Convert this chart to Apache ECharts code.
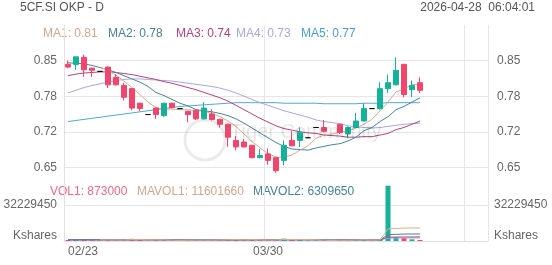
<!DOCTYPE html>
<html><head><meta charset="utf-8">
<script src="https://cdn.jsdelivr.net/npm/echarts@6/dist/echarts.min.js"></script>
<style>html,body{margin:0;padding:0;background:#fff}#c{width:552px;height:265px}</style>
</head><body><div id="c"></div>
<script>
// ---------- data ----------
const titleText = '5CF.SI OKP - D';
const timeText = '2026-04-28  06:04:01';
const watermarkText = 'Tiger Community';
const categories = ['02/23','02/24','02/25','02/26','02/27','03/02','03/03','03/04','03/05','03/06',
  '03/09','03/10','03/11','03/12','03/13','03/16','03/17','03/18','03/19','03/20',
  '03/23','03/24','03/25','03/26','03/27','03/30','03/31','04/01','04/02','04/06',
  '04/07','04/08','04/09','04/10','04/13','04/14','04/15','04/16','04/17','04/20',
  '04/21','04/22','04/23','04/24','04/27','04/28','04/29','04/30','05/01','05/04',
  '05/05','05/06','05/07'];
const shownDateLabels = ['02/23','03/30'];
const gridDates = ['03/30','05/05'];
const opens  = [0.843,0.843,0.856,0.836,0.830,0.838,0.819,0.804,0.798,0.771,0.750,0.762,0.748,0.771,0.761,0.756,0.758,0.742,0.751,0.741,0.732,0.702,0.699,0.693,0.670,0.677,0.670,0.665,0.702,0.702,0.707,0.726,0.726,null,0.732,0.714,0.726,0.738,0.761,0.761,0.798,0.805,0.843,0.796,0.809];
const closes = [0.838,0.857,0.833,0.832,0.830,0.805,0.805,0.782,0.762,0.761,0.750,0.750,0.771,0.763,0.761,0.750,0.742,0.762,0.741,0.732,0.708,0.690,0.690,0.670,0.674,0.665,0.646,0.693,0.692,0.717,0.707,0.726,0.719,null,0.717,0.726,0.738,0.761,0.761,0.798,0.809,0.832,0.787,0.804,0.795];
const lows   = [0.836,0.833,0.820,0.820,0.830,0.799,0.804,0.776,0.758,0.756,0.750,0.742,0.746,0.761,0.761,0.736,0.740,0.741,0.739,0.726,0.690,0.684,0.689,0.669,0.669,0.657,0.642,0.656,0.691,0.690,0.707,0.726,0.717,null,0.714,0.706,0.725,0.737,0.761,0.759,0.790,0.804,0.782,0.782,0.790];
const highs  = [0.850,0.857,0.861,0.837,0.830,0.839,0.825,0.809,0.799,0.772,0.750,0.763,0.772,0.772,0.761,0.757,0.759,0.773,0.760,0.742,0.733,0.710,0.705,0.694,0.686,0.687,0.672,0.702,0.719,0.726,0.707,0.726,0.740,null,0.733,0.728,0.753,0.771,0.761,0.810,0.824,0.856,0.844,0.813,0.819];
const ma1 = [null,null,null,null,0.838,0.832,0.823,0.812,0.800,0.787,0.773,0.763,0.760,0.760,0.759,0.759,0.757,0.756,0.752,0.746,0.738,0.728,0.714,0.700,0.688,0.678,0.671,0.671,0.675,0.684,0.692,0.706,0.712,0.714,0.717,0.720,0.725,0.732,0.741,0.757,0.773,0.792,0.797,0.806,0.805];
const ma2 = [0.846,0.845,0.844,0.841,0.837,0.833,0.828,0.822,0.816,0.810,0.802,0.791,0.785,0.778,0.771,0.766,0.759,0.757,0.755,0.752,0.748,0.742,0.734,0.725,0.716,0.707,0.698,0.691,0.686,0.685,0.684,0.688,0.691,0.694,0.696,0.701,0.708,0.720,0.726,0.737,0.746,0.759,0.765,0.773,0.781];
const ma3 = [0.822,0.825,0.827,0.828,0.829,0.829,0.828,0.826,0.824,0.821,0.818,0.815,0.811,0.808,0.804,0.800,0.796,0.791,0.786,0.781,0.775,0.767,0.759,0.751,0.743,0.736,0.729,0.724,0.721,0.718,0.716,0.715,0.712,0.711,0.710,0.708,0.708,0.709,0.709,0.712,0.715,0.722,0.726,0.732,0.738];
const ma4 = [0.790,0.795,0.800,0.804,0.807,0.810,0.813,0.815,0.816,0.816,0.815,0.814,0.813,0.812,0.810,0.808,0.806,0.804,0.802,0.799,0.795,0.790,0.784,0.778,0.772,0.767,0.762,0.757,0.753,0.749,0.745,0.740,0.737,0.735,0.733,0.729,0.727,0.726,0.725,0.726,0.728,0.730,0.732,0.733,0.734];
const ma5 = [0.737,0.739,0.741,0.743,0.745,0.747,0.749,0.751,0.753,0.755,0.757,0.759,0.761,0.763,0.765,0.766,0.767,0.768,0.769,0.770,0.771,0.772,0.772,0.772,0.772,0.772,0.772,0.771,0.771,0.771,0.771,0.771,0.770,0.770,0.770,0.770,0.770,0.771,0.771,0.771,0.772,0.772,0.772,0.772,0.772];
const volumes = [950000,1320000,1480000,620000,410000,1150000,870000,1630000,1920000,1040000,380000,760000,1210000,690000,310000,840000,990000,1370000,720000,880000,1760000,1530000,640000,1280000,710000,960000,1420000,2150000,1180000,1340000,420000,560000,830000,null,910000,760000,1050000,1380000,520000,1430000,49500000,3500000,2600000,1500000,873000];
const mavol1 = [null,null,null,null,956000,996000,906000,936000,1254000,1322000,1168000,1146000,1062000,816000,666000,762000,810000,842000,846000,960000,1144000,1252000,1106000,1218000,1184000,922000,1004000,1304000,1324000,1410000,1298000,1130000,866000,866000,690000,765000,889000,1026000,924000,978000,10780000,11270000,11510000,11700000,11601660];
const mavol2 = [1050000,1080000,1100000,1050000,1000000,980000,950000,1000000,1050000,1160000,1100000,1090000,1070000,1000000,960000,930000,940000,960000,920000,910000,960000,990000,1000000,1050000,1050000,1030000,1070000,1150000,1140000,1160000,1150000,1120000,1140000,1140000,1000000,950000,960000,1000000,920000,920000,5700000,6000000,6200000,6300000,6309650];
const mavol3 = [1000000,1010000,1020000,1030000,1020000,1010000,1000000,1000000,1010000,1020000,1030000,1030000,1040000,1030000,1020000,1000000,990000,990000,1000000,1000000,1010000,1020000,1030000,1040000,1040000,1050000,1060000,1070000,1080000,1080000,1070000,1060000,1050000,1050000,1040000,1030000,1020000,1020000,1010000,1010000,3400000,3500000,3600000,3600000,3650000];
const mavol4 = [1050000,1050000,1040000,1040000,1030000,1030000,1020000,1020000,1010000,1010000,1010000,1000000,1000000,1000000,990000,990000,990000,1000000,1000000,1000000,1010000,1010000,1020000,1020000,1030000,1030000,1040000,1040000,1050000,1050000,1050000,1050000,1040000,1040000,1040000,1030000,1030000,1020000,1020000,1020000,2600000,2650000,2700000,2700000,2720000];
const maNames = ['MA1','MA2','MA3','MA4','MA5'];
const maLegendValues = ['0.81','0.78','0.74','0.73','0.77'];
const volNames = ['VOL1','MAVOL1','MAVOL2'];
const volLegendValues = ['873000','11601660','6309650'];
const priceMin = 0.586, priceMax = 0.916, priceStep = 0.066;
const volStep = 32229450;
const volZeroLabel = 'Kshares';

// ---------- styles ----------
const UP = '#14b399', DOWN = '#f2456b';
const maColors = ['#d9ab8e', '#4b83a0', '#b8447f', '#aaa8e2', '#53a8d4'];
const maTextColors = ['#d1a88d', '#4a8199', '#b5437f', '#a9a8df', '#4c9ccf'];
const volTextColors = ['#ef6a82', '#d1a88d', '#4a8199'];
const volLineColors = ['#dcae92', '#4b7f9c', '#b8447f', '#aaa8e2'];
const FONT = '"Liberation Sans", Arial, sans-serif';

const candleData = opens.map((o, i) => o == null ? '-' : [o, closes[i], lows[i], highs[i]]);
const volData = volumes.map((v, i) => v == null ? '-' : {
  value: v, itemStyle: { color: closes[i] >= opens[i] ? UP : DOWN }
});
const idxOf = d => categories.indexOf(d);
const labelIdx = shownDateLabels.map(idxOf);
const splitIdx = gridDates.map(idxOf);
const volAxisData = categories.map((c, i) => i === 0 ? { value: c, textStyle: { align: 'left' } } : c);

const legendX = [43, 108, 176, 236, 301];
const volLegendX = [50, 137, 253];
const graphics = [
  { type: 'text', left: 20, top: 2, style: { text: titleText, fill: '#555', font: '12px ' + FONT } },
  { type: 'text', right: 17, top: 2, style: { text: timeText, fill: '#555', font: '12px ' + FONT } },
  { type: 'circle', shape: { cx: 205, cy: 140, r: 20 }, style: { fill: 'none', stroke: 'rgba(0,0,0,0.08)', lineWidth: 3 }, z: 100, silent: true },
  { type: 'text', x: 230, y: 122, style: { text: watermarkText, fill: 'rgba(0,0,0,0.10)', font: '20px ' + FONT }, z: 100, silent: true }
];
maNames.forEach((n, i) => graphics.push({ type: 'text', x: legendX[i], y: 28, style: { text: n + ': ' + maLegendValues[i], fill: maTextColors[i], font: '12px ' + FONT } }));
volNames.forEach((n, i) => graphics.push({ type: 'text', x: volLegendX[i], y: 186, style: { text: n + ': ' + volLegendValues[i], fill: volTextColors[i], font: '12px ' + FONT } }));

const gridLine = { color: '#e6e6e6', width: 1 };
const priceLabel = { color: '#666', fontSize: 12, fontFamily: FONT, showMinLabel: false, showMaxLabel: false, formatter: v => v.toFixed(2) };
const volLabelFmt = v => v === 0 ? '{k|' + volZeroLabel + '}' : String(Math.round(v));
const volLabel = { color: '#666', fontSize: 12, fontFamily: FONT, showMaxLabel: false, formatter: volLabelFmt, rich: { k: { color: '#666', fontSize: 12, fontFamily: FONT, padding: [0, 0, 10, 0] } } };

const lineSeries = (name, data, color, xi, yi) => ({
  name, type: 'line', data, xAxisIndex: xi, yAxisIndex: yi, showSymbol: false, symbol: 'none',
  lineStyle: { color, width: 1 }, connectNulls: true, silent: true, z: 3
});

const option = {
  animation: false,
  backgroundColor: '#fff',
  textStyle: { fontFamily: FONT },
  grid: [
    { left: 64, right: 64, top: 25, height: 178 },
    { left: 64, right: 64, top: 169, height: 72 }
  ],
  xAxis: [
    { type: 'category', gridIndex: 0, data: categories, boundaryGap: true,
      axisLine: { show: false }, axisTick: { show: false }, axisLabel: { show: false },
      splitLine: { show: true, interval: i => splitIdx.includes(i), lineStyle: gridLine } },
    { type: 'category', gridIndex: 1, data: volAxisData, boundaryGap: true,
      axisLine: { show: true, lineStyle: { color: '#e2e2e2' } }, axisTick: { show: false },
      axisLabel: { interval: i => labelIdx.includes(i), color: '#666', fontSize: 12, fontFamily: FONT, margin: 5 },
      splitLine: { show: true, interval: i => splitIdx.includes(i), lineStyle: gridLine } }
  ],
  yAxis: [
    { type: 'value', gridIndex: 0, position: 'left', min: priceMin, max: priceMax, interval: priceStep,
      axisLine: { show: true, lineStyle: { color: '#e6dfe0' } }, axisTick: { show: false },
      axisLabel: Object.assign({ margin: 7 }, priceLabel),
      splitLine: { show: true, lineStyle: gridLine, showMinLine: false, showMaxLine: false } },
    { type: 'value', gridIndex: 0, position: 'right', min: priceMin, max: priceMax, interval: priceStep,
      axisLine: { show: false }, axisTick: { show: false },
      axisLabel: Object.assign({ margin: 9 }, priceLabel), splitLine: { show: false } },
    { type: 'value', gridIndex: 1, position: 'left', min: 0, max: volStep * 2, interval: volStep,
      axisLine: { show: true, lineStyle: { color: '#e6dfe0' } }, axisTick: { show: false },
      axisLabel: Object.assign({ margin: 7 }, volLabel),
      splitLine: { show: true, lineStyle: gridLine, showMinLine: false, showMaxLine: false } },
    { type: 'value', gridIndex: 1, position: 'right', min: 0, max: volStep * 2, interval: volStep,
      axisLine: { show: false }, axisTick: { show: false },
      axisLabel: Object.assign({ margin: 6 }, volLabel), splitLine: { show: false } }
  ],
  series: [
    lineSeries('MA5', ma5, maColors[4], 0, 0),
    lineSeries('MA4', ma4, maColors[3], 0, 0),
    lineSeries('MA3', ma3, maColors[2], 0, 0),
    lineSeries('MA2', ma2, maColors[1], 0, 0),
    lineSeries('MA1', ma1, maColors[0], 0, 0),
    { name: 'K', type: 'candlestick', xAxisIndex: 0, yAxisIndex: 0, data: candleData, barWidth: 6, z: 4,
      itemStyle: { color: UP, color0: DOWN, borderColor: UP, borderColor0: DOWN, borderColorDoji: '#111', borderWidth: 1 } },
    { name: 'VOL', type: 'bar', xAxisIndex: 1, yAxisIndex: 2, data: volData, barWidth: 5, z: 2 },
    lineSeries('MAVOL4', mavol4, volLineColors[3], 1, 2),
    lineSeries('MAVOL3', mavol3, volLineColors[2], 1, 2),
    lineSeries('MAVOL2', mavol2, volLineColors[1], 1, 2),
    lineSeries('MAVOL1', mavol1, volLineColors[0], 1, 2)
  ],
  graphic: graphics
};
const chart = echarts.init(document.getElementById('c'));
chart.setOption(option);
</script>
</body></html>
